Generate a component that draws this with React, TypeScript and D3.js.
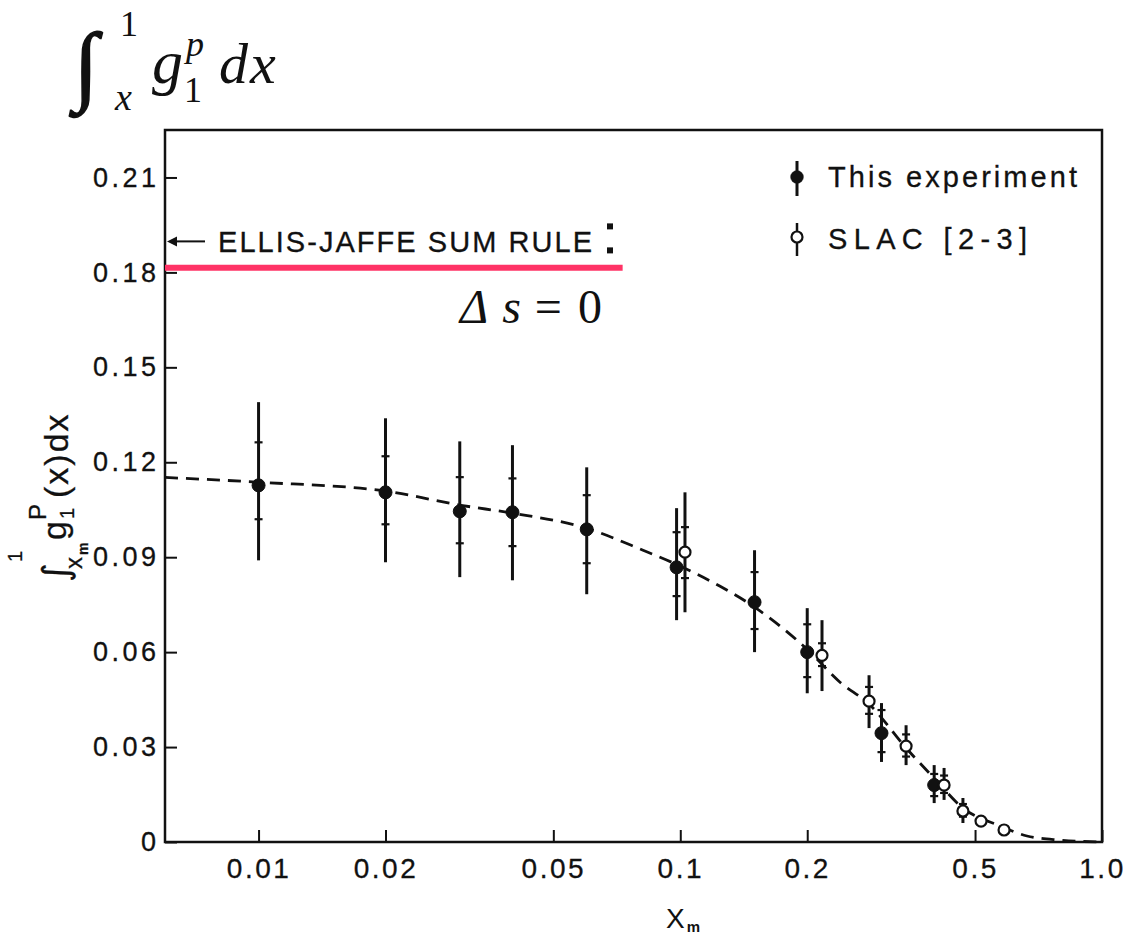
import React, { useEffect, useRef } from 'react';
import * as d3 from 'd3';

// "This experiment" points: x_m, integral value, total error range, stat error ticks
const expX = [0.01, 0.02, 0.03, 0.04, 0.06, 0.098, 0.15, 0.2, 0.3, 0.4];
const expY = [0.1127, 0.1105, 0.1045, 0.1042, 0.0988, 0.0868, 0.0758, 0.06, 0.0344, 0.018];
const expLo = [0.089, 0.0884, 0.0837, 0.0827, 0.0783, 0.0701, 0.06, 0.047, 0.0253, 0.0123];
const expHi = [0.139, 0.1339, 0.1266, 0.1254, 0.1184, 0.1055, 0.0922, 0.0739, 0.0439, 0.0243];
const expStatLo = [0.102, 0.1004, 0.0944, 0.0935, 0.0881, 0.0777, 0.0673, 0.0521, 0.0284, 0.0145];
const expStatHi = [0.1263, 0.1219, 0.1153, 0.1149, 0.1096, 0.0979, 0.0853, 0.0688, 0.0417, 0.0215];

// SLAC [2-3] points
const slacX = [0.1026, 0.2168, 0.2803, 0.3431, 0.4222, 0.468, 0.5166, 0.5858];
const slacY = [0.0916, 0.059, 0.0445, 0.0303, 0.018, 0.0098, 0.0066, 0.0038];
const slacLo = [0.0726, 0.0477, 0.036, 0.0243, 0.0133, 0.006, 0.0066, 0.0038];
const slacHi = [0.1105, 0.0701, 0.0527, 0.0369, 0.0234, 0.0139, 0.0066, 0.0038];
const slacStatLo = [0.0834, 0.0556, 0.0405, 0.027, 0.0155, 0.008, 0.0066, 0.0038];
const slacStatHi = [0.0995, 0.0628, 0.049, 0.034, 0.021, 0.012, 0.0066, 0.0038];

// dashed fit curve
const fitX = [0.006, 0.01, 0.0202, 0.0302, 0.0401, 0.0601, 0.0816, 0.0988, 0.1243, 0.1512, 0.2009, 0.2392, 0.2803, 0.3431, 0.3997, 0.4683, 0.5731, 0.664, 0.7957, 1.0];
const fitY = [0.1152, 0.1137, 0.1108, 0.1064, 0.1039, 0.0991, 0.0922, 0.0875, 0.0808, 0.0739, 0.0606, 0.0505, 0.0436, 0.0297, 0.0202, 0.0107, 0.0051, 0.0019, 0.0006, 0];

const xTicks = [0.01, 0.02, 0.05, 0.1, 0.2, 0.5, 1.0];
const xTickLabels = ['0.01', '0.02', '0.05', '0.1', '0.2', '0.5', '1.0'];
const yTicks = [0, 0.03, 0.06, 0.09, 0.12, 0.15, 0.18, 0.21];
const yTickLabels = ['0', '0.03', '0.06', '0.09', '0.12', '0.15', '0.18', '0.21'];

const ellisJaffe = 0.1898;
const pinkLevel = 0.1815;
const pinkEnd = 0.073;

const SANS = '"Liberation Sans", Arial, sans-serif';
const SERIF = '"Liberation Serif", "Times New Roman", serif';

const App = () => {
  const ref = useRef<SVGSVGElement>(null);

  useEffect(() => {
    const svg = d3.select(ref.current);
    svg.selectAll('*').remove();

    const width = 1128;
    const height = 934;
    const left = 165, right = 1102, top = 130, bottom = 842;

    svg.attr('width', width).attr('height', height);
    svg.append('rect').attr('width', width).attr('height', height).attr('fill', '#fff');

    const x = d3.scaleLog().domain([0.006, 1.0]).range([left, right]);
    const y = d3.scaleLinear().domain([0, 0.225]).range([bottom, top]);

    // axes, ticks pointing inward
    const yAxis = svg.append('g')
      .attr('transform', `translate(${left},0)`)
      .call(d3.axisLeft(y).tickValues(yTicks).tickSize(-12).tickPadding(9)
        .tickFormat((d, i) => yTickLabels[i]));
    yAxis.select('.domain').remove();
    yAxis.selectAll('line').attr('stroke', '#111').attr('stroke-width', 2);
    yAxis.selectAll('text')
      .attr('font-family', SANS).attr('font-size', 27).attr('fill', '#111')
      .attr('letter-spacing', 3.5).attr('dx', 3.5).attr('stroke', '#111').attr('stroke-width', 0.3);

    const xAxis = svg.append('g')
      .attr('transform', `translate(0,${bottom})`)
      .call(d3.axisBottom(x).tickValues(xTicks).tickSize(-12).tickPadding(16)
        .tickFormat((d, i) => xTickLabels[i]));
    xAxis.select('.domain').remove();
    xAxis.selectAll('line').attr('stroke', '#111').attr('stroke-width', 2);
    xAxis.selectAll('text')
      .attr('font-family', SANS).attr('font-size', 28).attr('fill', '#111')
      .attr('letter-spacing', 2.5).attr('stroke', '#111').attr('stroke-width', 0.3);

    svg.append('rect')
      .attr('x', left).attr('y', top)
      .attr('width', right - left).attr('height', bottom - top)
      .attr('fill', 'none').attr('stroke', '#111').attr('stroke-width', 2.5);

    // fit curve
    const line = d3.line<number>()
      .x((d, i) => x(fitX[i]))
      .y(d => y(d))
      .curve(d3.curveMonotoneX);
    svg.append('path')
      .attr('d', line(fitY))
      .attr('fill', 'none').attr('stroke', '#111')
      .attr('stroke-width', 2.8).attr('stroke-dasharray', '13 8');

    const drawSeries = (xs, ys, lo, hi, sLo, sHi, filled) => {
      const g = svg.append('g');
      xs.forEach((xv, i) => {
        const cx = x(xv);
        if (hi[i] > lo[i]) {
          g.append('line')
            .attr('x1', cx).attr('x2', cx)
            .attr('y1', y(lo[i])).attr('y2', y(hi[i]))
            .attr('stroke', '#111').attr('stroke-width', 3);
          [sLo[i], sHi[i]].forEach(v => {
            g.append('line')
              .attr('x1', cx - 4).attr('x2', cx + 4)
              .attr('y1', y(v)).attr('y2', y(v))
              .attr('stroke', '#111').attr('stroke-width', 2.2);
          });
        }
        g.append('circle')
          .attr('cx', cx).attr('cy', y(ys[i]))
          .attr('r', filled ? 6.5 : 5.5)
          .attr('fill', filled ? '#111' : '#fff')
          .attr('stroke', '#111').attr('stroke-width', filled ? 1 : 2.2);
      });
    };
    drawSeries(expX, expY, expLo, expHi, expStatLo, expStatHi, true);
    drawSeries(slacX, slacY, slacLo, slacHi, slacStatLo, slacStatHi, false);

    // Ellis-Jaffe annotation
    const ej = y(ellisJaffe);
    svg.append('line')
      .attr('x1', left + 8).attr('x2', left + 40)
      .attr('y1', ej).attr('y2', ej)
      .attr('stroke', '#111').attr('stroke-width', 2);
    svg.append('path')
      .attr('d', `M${left + 2},${ej} l10,-5 l0,10 z`)
      .attr('fill', '#111');
    svg.append('text')
      .attr('x', 218).attr('y', ej + 10.5)
      .attr('font-family', SANS).attr('font-size', 29).attr('fill', '#111')
      .attr('stroke', '#111').attr('stroke-width', 0.3)
      .attr('textLength', 374).attr('lengthAdjust', 'spacing')
      .text('ELLIS-JAFFE SUM RULE');
    svg.append('rect').attr('x', 607).attr('y', ej - 18).attr('width', 6).attr('height', 6).attr('fill', '#111');
    svg.append('rect').attr('x', 607).attr('y', ej + 6).attr('width', 6).attr('height', 6).attr('fill', '#111');

    svg.append('line')
      .attr('x1', x(0.006)).attr('x2', x(pinkEnd))
      .attr('y1', y(pinkLevel)).attr('y2', y(pinkLevel))
      .attr('stroke', '#ff3366').attr('stroke-width', 6);

    const ds = svg.append('text')
      .attr('x', 460).attr('y', 323)
      .attr('font-family', SERIF).attr('font-size', 48).attr('fill', '#111');
    ds.append('tspan').attr('font-style', 'italic').text('Δ');
    ds.append('tspan').attr('font-style', 'italic').attr('dx', 14).text('s');
    ds.append('tspan').attr('dx', 14).text('=');
    ds.append('tspan').attr('dx', 16).text('0');

    // legend
    const lg = svg.append('g').attr('font-family', SANS).attr('font-size', 29).attr('fill', '#111')
      .attr('stroke', '#111').attr('stroke-width', 0.3);
    lg.append('line').attr('x1', 797).attr('x2', 797).attr('y1', 161).attr('y2', 196)
      .attr('stroke', '#111').attr('stroke-width', 3);
    lg.append('circle').attr('cx', 797).attr('cy', 177).attr('r', 6.5).attr('fill', '#111');
    lg.append('text').attr('x', 828).attr('y', 187).attr('textLength', 249)
      .attr('lengthAdjust', 'spacing').text('This experiment');
    lg.append('line').attr('x1', 797).attr('x2', 797).attr('y1', 223).attr('y2', 256)
      .attr('stroke', '#111').attr('stroke-width', 2.5);
    lg.append('circle').attr('cx', 797).attr('cy', 237).attr('r', 5.5).attr('fill', '#fff')
      .attr('stroke', '#111').attr('stroke-width', 2.2);
    lg.append('text').attr('x', 828).attr('y', 249).attr('textLength', 199)
      .attr('lengthAdjust', 'spacing').text('SLAC [2-3]');

    // x axis title
    const xt = svg.append('text').attr('x', 666).attr('y', 928)
      .attr('font-family', SANS).attr('font-size', 28).attr('fill', '#111');
    xt.append('tspan').text('X');
    xt.append('tspan').attr('font-size', 15).attr('font-weight', 'bold').attr('dx', 2).attr('dy', 4).text('m');

    // y axis title, rotated
    const yt = svg.append('text')
      .attr('transform', 'translate(68,582) rotate(-90)')
      .attr('font-family', SANS).attr('font-size', 34).attr('fill', '#111')
      .attr('stroke', '#111').attr('stroke-width', 0.3);
    yt.append('tspan').attr('font-family', '"DejaVu Sans", sans-serif').attr('font-size', 36).attr('x', 0).attr('y', 0).text('∫');
    yt.append('tspan').attr('font-size', 24).attr('x', 13).attr('y', 14).text('x');
    yt.append('tspan').attr('font-size', 14).attr('font-weight', 'bold').attr('x', 27).attr('y', 20).text('m');
    yt.append('tspan').attr('font-size', 20).attr('x', 20).attr('y', -46).text('1');
    yt.append('tspan').attr('x', 42).attr('y', -2).text('g');
    yt.append('tspan').attr('font-size', 24).attr('x', 62).attr('y', -22).text('P');
    yt.append('tspan').attr('font-size', 20).attr('x', 63).attr('y', 6).text('1');
    yt.append('tspan').attr('x', 84).attr('y', 0).attr('letter-spacing', 2).text('(x)dx');

    // formula at top-left
    const f = svg.append('g').attr('font-family', SERIF).attr('fill', '#111');
    f.append('text').attr('x', 74).attr('y', 94).attr('font-size', 88)
      .attr('stroke', '#111').attr('stroke-width', 1.5).text('∫');
    f.append('text').attr('x', 120).attr('y', 36).attr('font-size', 36).text('1');
    f.append('text').attr('x', 115).attr('y', 110).attr('font-size', 38).attr('font-style', 'italic').text('x');
    f.append('text').attr('x', 152).attr('y', 83).attr('font-size', 62).attr('font-style', 'italic').text('g');
    f.append('text').attr('x', 186).attr('y', 56).attr('font-size', 36).attr('font-style', 'italic').text('p');
    f.append('text').attr('x', 184).attr('y', 102).attr('font-size', 36).text('1');
    f.append('text').attr('x', 219).attr('y', 83).attr('font-size', 58).attr('font-style', 'italic')
      .attr('letter-spacing', 2).text('dx');
  }, []);

  return <svg ref={ref} style={{ position: 'absolute', left: 0, top: 0, display: 'block' }}></svg>;
};

export default App;
